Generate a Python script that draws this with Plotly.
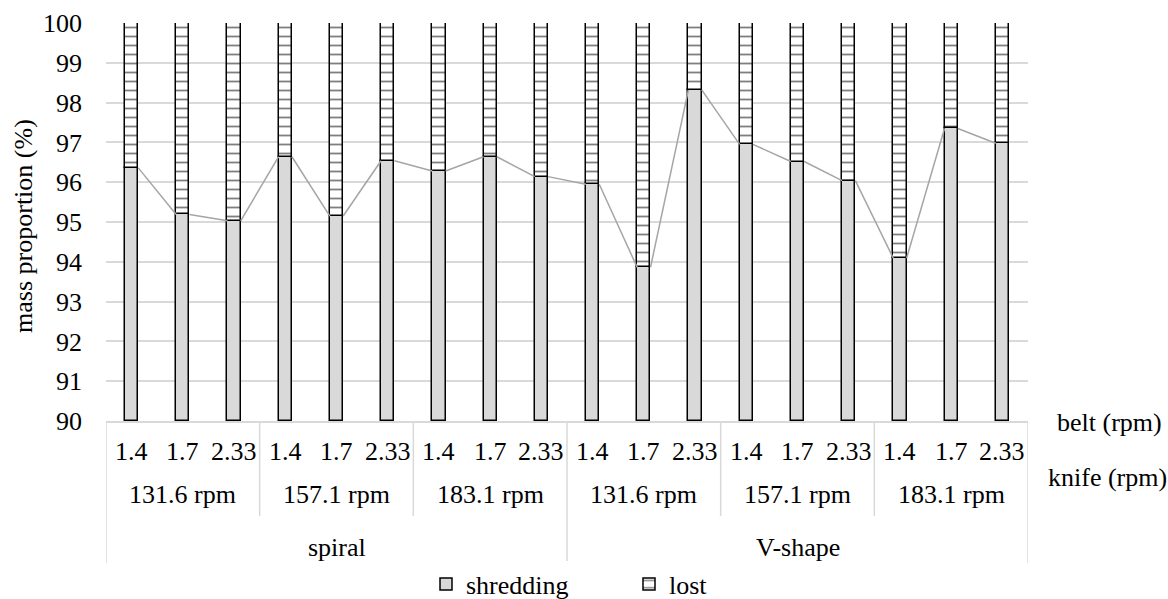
import plotly.graph_objects as go

belt = ["1.4", "1.7", "2.33"] * 6
knife = ["131.6 rpm", "157.1 rpm", "183.1 rpm"] * 2
shape = ["spiral", "V-shape"]
shredding = [96.36, 95.19, 95.03, 96.64, 95.15, 96.54, 96.28, 96.64, 96.14,
             95.95, 93.86, 98.32, 96.95, 96.52, 96.04, 94.09, 97.35, 96.98]
lost = [round(100 - v, 2) for v in shredding]

FONT = "Liberation Serif"
FS = 26
W = 0.26
n = len(shredding)
xs = list(range(n))

fig = go.Figure()
fig.add_trace(go.Bar(
    x=xs, y=[v - 90 for v in shredding], base=90, width=W, name="shredding",
    marker=dict(color="#d9d9d9", line=dict(color="black", width=1.5)),
))
fig.add_trace(go.Bar(
    x=xs, y=lost, base=shredding, width=W, name="lost",
    marker=dict(color="white", line=dict(color="black", width=1.5),
                pattern=dict(shape="-", fgcolor="black", bgcolor="white",
                             size=9, solidity=0.2)),
))
lx, ly = [], []
for i in range(n - 1):
    lx += [i + W / 2, i + 1 - W / 2, None]
    ly += [shredding[i], shredding[i + 1], None]
fig.add_trace(go.Scatter(x=lx, y=ly, mode="lines", showlegend=False,
                         line=dict(color="#a5a5a5", width=1.5), hoverinfo="skip"))

tf = dict(family=FONT, size=FS, color="black")
ann = []
for i, b in enumerate(belt):
    ann.append(dict(x=i, y=-0.076, xref="x", yref="paper", text=b, showarrow=False,
                    font=tf, yanchor="middle"))
for k, kn in enumerate(knife):
    ann.append(dict(x=3 * k + 1, y=-0.185, xref="x", yref="paper", text=kn, showarrow=False,
                    font=tf, yanchor="middle"))
for s, sh in enumerate(shape):
    ann.append(dict(x=9 * s + 4, y=-0.319, xref="x", yref="paper", text=sh, showarrow=False,
                    font=tf, yanchor="middle"))
ann.append(dict(x=1.088, y=-0.005, xref="paper", yref="paper", text="belt (rpm)",
                showarrow=False, font=tf, yanchor="middle", xanchor="center"))
ann.append(dict(x=1.086, y=-0.143, xref="paper", yref="paper", text="knife (rpm)",
                showarrow=False, font=tf, yanchor="middle", xanchor="center"))
ann.append(dict(x=-0.089, y=0.49, xref="paper", yref="paper", text="mass proportion (%)",
                showarrow=False, font=tf, textangle=-90,
                xanchor="center", yanchor="middle"))

shapes = []
for g in range(7):
    xv = 3 * g - 0.5
    big = g % 3 == 0
    shapes.append(dict(type="line", xref="x", yref="paper", x0=xv, x1=xv, y0=0,
                       y1=-0.357 if big else -0.239,
                       line=dict(color="#d9d9d9", width=1.5)))

fig.update_layout(
    width=1168, height=599,
    margin=dict(l=106, r=140, t=23, b=178, autoexpand=False),
    paper_bgcolor="white", plot_bgcolor="white",
    barmode="overlay", bargap=0,
    font=tf,
    xaxis=dict(range=[-0.5, n - 0.5], showticklabels=False, showgrid=False,
               zeroline=False, showline=True, linecolor="#d9d9d9", linewidth=1.5),
    yaxis=dict(range=[90, 100], dtick=1, showgrid=True, gridcolor="#d9d9d9",
               gridwidth=1.5, zeroline=False, ticklabelstandoff=23,
               tickfont=tf),
    legend=dict(orientation="h", x=(458 - 32 - 106) / 922, xanchor="left",
                y=-0.41, yanchor="middle",
                font=tf, entrywidth=158, itemwidth=30, tracegroupgap=0),
    annotations=ann, shapes=shapes,
)
fig.write_html("out.html")
